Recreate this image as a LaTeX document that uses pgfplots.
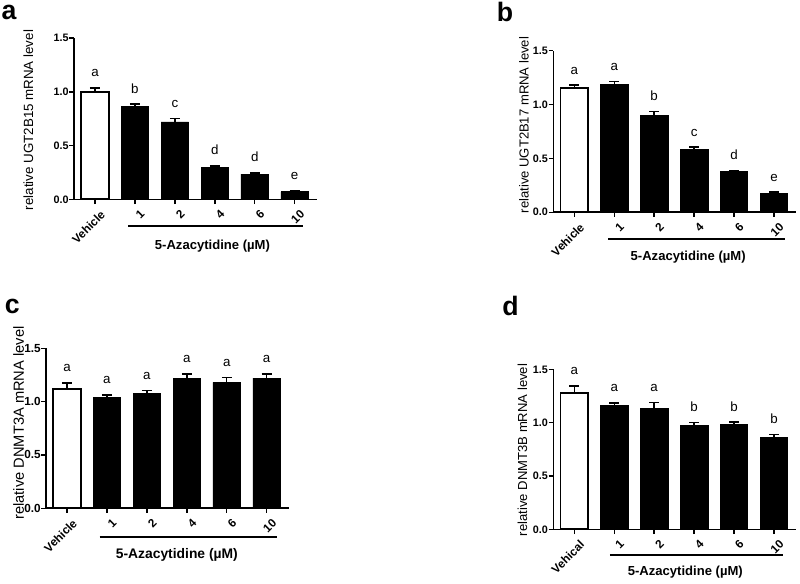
\documentclass[border=0pt]{standalone}
\usepackage{fontspec}
\setmainfont{Liberation Sans}
\usepackage{pgfplots}
\pgfplotsset{compat=1.18}
\newcommand{\tickfont}{\bfseries\fontsize{8.1}{9}\selectfont}
\newcommand{\xtickfont}{\bfseries\fontsize{8.8}{9}\selectfont}
\newcommand{\letfont}{\fontsize{10}{12}\selectfont}
\pgfplotsset{
 panel/.style={
  scale only axis, width=182pt,
  xmin=-0.525, xmax=5.55, ymin=0, ymax=1.5,
  axis lines=left,
  axis line style={line width=1.2pt, -},
  major tick style={line width=1.1pt, black},
  tick align=outside, major tick length=3.5pt,
  ytick={0,0.5,1,1.5},
  xtick={0,...,5},
  xticklabels={Vehicle,1,2,4,6,10},
  xticklabel style={rotate=45, anchor=north east, font=\xtickfont, inner sep=1pt, yshift=-4.2pt, xshift=0.8pt},
  yticklabel style={font=\tickfont, inner sep=0.3pt, /pgf/number format/fixed, /pgf/number format/fixed zerofill, /pgf/number format/precision=1},
  /pgf/number format/assume math mode=true,
  clip=false,
  anchor=south west,
 },
 whitebar/.style={ybar, bar width=0.69, bar shift=0pt, fill=white, draw=black, line width=1.4pt,
  error bars/.cd, y dir=plus, y explicit,
  error bar style={line width=1.1pt, black},
  error mark options={rotate=90, mark size=3.75pt, line width=1.1pt, black}},
 blackbar/.style={ybar, bar width=0.69, bar shift=0pt, fill=black, draw=black, line width=0.6pt,
  error bars/.cd, y dir=plus, y explicit,
  error bar style={line width=1.1pt, black},
  error mark options={rotate=90, mark size=3.75pt, line width=1.1pt, black}},
 letters/.style={draw=none, mark=none, nodes near coords, point meta=explicit symbolic,
  every node near coord/.append style={anchor=south, inner sep=0pt, yshift=8pt, font=\letfont, black}},
}
\begin{document}
\begin{tikzpicture}
\useasboundingbox (0,0) rectangle (600pt,-437.25pt);

% ---------------- panel a ----------------
\begin{axis}[panel, height=121pt, at={(55.5pt,-149.5pt)}]
\addplot[whitebar] coordinates {(0,1.00) +- (0,0.035)};
\addplot[blackbar] coordinates {(1,0.86) +- (0,0.025) (2,0.72) +- (0,0.03) (3,0.295) +- (0,0.015) (4,0.235) +- (0,0.012) (5,0.07) +- (0,0.01)};
\addplot[letters] coordinates {(0,1.035)[a] (1,0.885)[b] (2,0.75)[c] (3,0.31)[d] (4,0.247)[d] (5,0.08)[e]};
\draw[line width=1.5pt] ([yshift=-20.2pt]axis cs:0.83,0) -- ([yshift=-20.2pt]axis cs:5.22,0);
\node[font=\bfseries\fontsize{9.8}{11}\selectfont] at ([yshift=-35.3pt]axis cs:2.94,0) {5-Azacytidine (µM)};
\end{axis}

% ---------------- panel b ----------------
\begin{axis}[panel, height=121.2pt, at={(415pt,-159.2pt)}]
\addplot[whitebar] coordinates {(0,1.15) +- (0,0.03)};
\addplot[blackbar] coordinates {(1,1.185) +- (0,0.03) (2,0.90) +- (0,0.035) (3,0.58) +- (0,0.025) (4,0.375) +- (0,0.015) (5,0.175) +- (0,0.012)};
\addplot[letters] coordinates {(0,1.18)[a] (1,1.215)[a] (2,0.935)[b] (3,0.605)[c] (4,0.39)[d] (5,0.187)[e]};
\draw[line width=1.5pt] ([yshift=-20pt]axis cs:0.85,0) -- ([yshift=-20pt]axis cs:5.27,0);
\node[font=\bfseries\fontsize{9.8}{11}\selectfont] at ([yshift=-33.5pt]axis cs:2.85,0) {5-Azacytidine (µM)};
\end{axis}

% ---------------- panel c ----------------
\begin{axis}[panel, height=120pt, at={(34.5pt,-381.2pt)}, yticklabel style={font=\bfseries\fontsize{8.8}{10}\selectfont}]
\addplot[whitebar] coordinates {(0,1.12) +- (0,0.055)};
\addplot[blackbar] coordinates {(1,1.035) +- (0,0.028) (2,1.075) +- (0,0.03) (3,1.215) +- (0,0.045) (4,1.18) +- (0,0.047) (5,1.22) +- (0,0.04)};
\addplot[letters] coordinates {(0,1.175)[a] (1,1.063)[a] (2,1.105)[a] (3,1.26)[a] (4,1.227)[a] (5,1.26)[a]};
\draw[line width=1.5pt] ([yshift=-21.3pt]axis cs:0.82,0) -- ([yshift=-21.3pt]axis cs:5.26,0);
\node[font=\bfseries\fontsize{10.4}{11}\selectfont] at ([yshift=-35pt]axis cs:2.75,0) {5-Azacytidine (µM)};
\end{axis}

% ---------------- panel d ----------------
\begin{axis}[panel, height=120pt, at={(415pt,-397pt)}, xticklabels={Vehical,1,2,4,6,10}]
\addplot[whitebar] coordinates {(0,1.28) +- (0,0.065)};
\addplot[blackbar] coordinates {(1,1.16) +- (0,0.025) (2,1.135) +- (0,0.055) (3,0.97) +- (0,0.03) (4,0.985) +- (0,0.02) (5,0.86) +- (0,0.028)};
\addplot[letters] coordinates {(0,1.345)[a] (1,1.185)[a] (2,1.19)[a] (3,1.0)[b] (4,1.005)[b] (5,0.888)[b]};
\draw[line width=1.5pt] ([yshift=-19.3pt]axis cs:0.89,0) -- ([yshift=-19.3pt]axis cs:5.22,0);
\node[font=\bfseries\fontsize{9.8}{11}\selectfont] at ([yshift=-31.8pt]axis cs:2.78,0) {5-Azacytidine (µM)};
\end{axis}

% y-axis titles
\node[rotate=90, font=\fontsize{10}{12}\selectfont] at (21.2pt,-90pt) {relative UGT2B15 mRNA level};
\node[rotate=90, font=\fontsize{9.8}{12}\selectfont] at (393pt,-93.8pt) {relative UGT2B17 mRNA level};
\node[rotate=90, font=\fontsize{11}{12}\selectfont] at (14pt,-317.3pt) {relative DNMT3A mRNA level};
\node[rotate=90, font=\fontsize{9.8}{12}\selectfont] at (391.9pt,-337.5pt) {relative DNMT3B mRNA level};

% panel letters
\node[anchor=base west, inner sep=0pt, font=\bfseries\fontsize{20}{22}\selectfont] at (1pt,-14.5pt) {a};
\node[anchor=base west, inner sep=0pt, font=\bfseries\fontsize{20}{22}\selectfont] at (372.5pt,-16.3pt) {b};
\node[anchor=base west, inner sep=0pt, font=\bfseries\fontsize{20}{22}\selectfont] at (3.5pt,-234.8pt) {c};
\node[anchor=base west, inner sep=0pt, font=\bfseries\fontsize{20}{22}\selectfont] at (376.5pt,-236.3pt) {d};
\end{tikzpicture}
\end{document}
